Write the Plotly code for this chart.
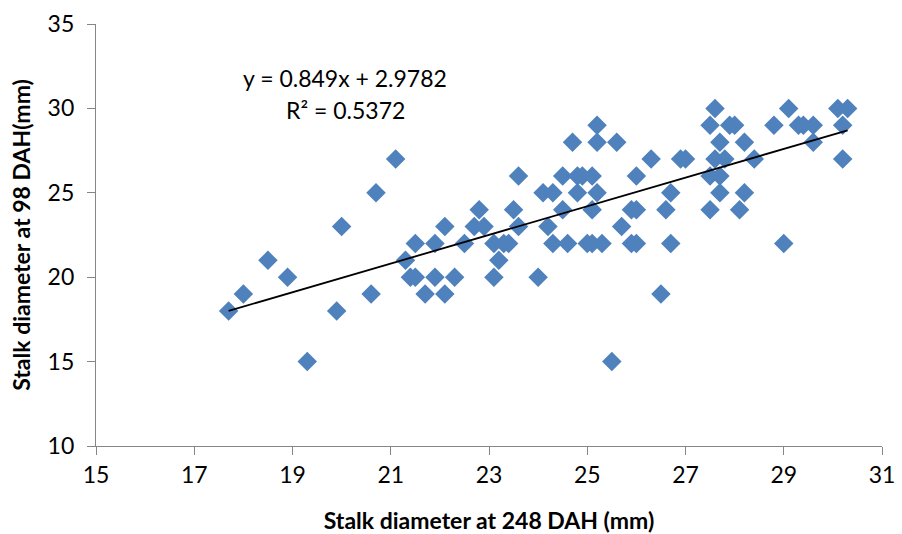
import plotly.graph_objects as go

x_248 = [17.7, 18.0, 18.5, 18.9, 19.3, 19.9, 20.0, 20.6, 20.7,
         21.1, 21.3, 21.4, 21.5, 21.5, 21.7, 21.9, 21.9, 22.1, 22.1, 22.3,
         22.5, 22.7, 22.8, 22.9, 23.1, 23.3, 23.4, 23.2, 23.1, 23.5, 23.6,
         23.6, 24.0, 24.1, 24.3, 24.2, 24.5, 24.3, 24.6, 24.5, 24.8, 24.9,
         25.1, 24.8, 25.2, 24.7, 25.2, 25.2, 25.0, 25.1, 25.3, 25.1, 25.5,
         25.6, 25.7, 25.9, 26.0, 25.9, 26.0, 26.0,
         27.6, 27.5, 27.9, 28.0, 27.7, 28.2, 26.3, 26.9, 27.0, 27.6, 27.8,
         28.4, 27.5, 27.7, 26.7, 27.7, 28.2, 26.6, 27.5, 28.1, 26.7, 29.0,
         26.5, 29.1, 30.1, 30.3, 28.8, 29.3, 29.4, 29.6, 30.2, 29.6, 30.2]
y_98 = [18, 19, 21, 20, 15, 18, 23, 19, 25,
        27, 21, 20, 20, 22, 19, 20, 22, 23, 19, 20,
        22, 23, 24, 23, 22, 22, 22, 21, 20, 24, 23,
        26, 20, 25, 25, 23, 24, 22, 22, 26, 26, 26,
        26, 25, 25, 28, 29, 28, 22, 22, 22, 24, 15,
        28, 23, 24, 24, 22, 22, 26,
        30, 29, 29, 29, 28, 28, 27, 27, 27, 27, 27,
        27, 26, 26, 25, 25, 25, 24, 24, 24, 22, 22,
        19, 30, 30, 30, 29, 29, 29, 29, 29, 28, 27]

slope = 0.849
intercept = 2.9782
eq_text = "y = 0.849x + 2.9782"
r2_text = "R² = 0.5372"

x_ticks = [15, 17, 19, 21, 23, 25, 27, 29, 31]
y_ticks = [10, 15, 20, 25, 30, 35]

FONT = "Lato"
FS = 23

xmin, xmax = min(x_248), max(x_248)
line_x = [xmin, xmax]
line_y = [slope * v + intercept for v in line_x]

fig = go.Figure()
fig.add_trace(go.Scatter(
    x=x_248, y=y_98, mode="markers",
    marker=dict(symbol="diamond", size=15, color="#4F81BD",
                line=dict(width=0)),
    showlegend=False, hoverinfo="x+y"))
fig.add_trace(go.Scatter(
    x=line_x, y=line_y, mode="lines",
    line=dict(color="black", width=1.8),
    showlegend=False, hoverinfo="skip"))

fig.add_annotation(x=20.07, y=31.8, xref="x", yref="y", text=eq_text,
                   showarrow=False,
                   font=dict(family=FONT, size=FS, color="black"))
fig.add_annotation(x=20.07, y=29.9, xref="x", yref="y", text=r2_text,
                   showarrow=False,
                   font=dict(family=FONT, size=FS, color="black"))

axis_common = dict(showgrid=False, zeroline=False, showline=True,
                   linecolor="#868686", linewidth=1.3, ticks="outside",
                   ticklen=8, tickcolor="#868686", tickwidth=1.3,
                   tickfont=dict(family=FONT, size=FS, color="black"),
                   mirror=False)

fig.update_xaxes(range=[15, 31], tickvals=x_ticks,
                 title=dict(text="<b>Stalk diameter at 248 DAH (mm)</b>",
                            font=dict(family=FONT, size=FS, color="black"),
                            standoff=26),
                 **axis_common)
fig.update_yaxes(range=[10, 35], tickvals=y_ticks, ticklabelstandoff=8,
                 title=dict(text="<b>Stalk diameter at 98 DAH(mm)</b>",
                            font=dict(family=FONT, size=FS, color="black"),
                            standoff=10),
                 **axis_common)

fig.update_layout(width=902, height=534,
                  margin=dict(l=96, r=20, t=24, b=88, autoexpand=False),
                  paper_bgcolor="white", plot_bgcolor="white",
                  font=dict(family=FONT, size=FS, color="black"))

fig.write_html("out.html")
